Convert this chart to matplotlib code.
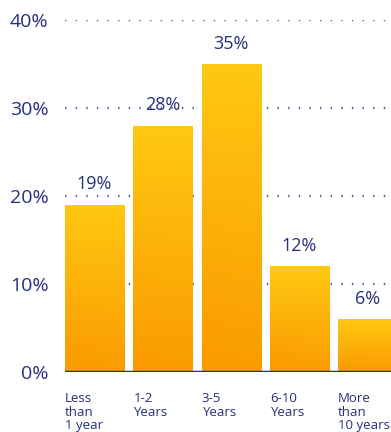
import matplotlib
matplotlib.use("Agg")
import matplotlib.pyplot as plt
import numpy as np
from matplotlib.colors import LinearSegmentedColormap

categories = ["Less\nthan\n1 year", "1-2\nYears", "3-5\nYears", "6-10\nYears", "More\nthan\n10 years"]
values = [19, 28, 35, 12, 6]
value_labels = ["19%", "28%", "35%", "12%", "6%"]
yticks = [0, 10, 20, 30, 40]
ytick_labels = ["0%", "10%", "20%", "30%", "40%"]

navy = "#26307a"
fontfam = ["Open Sans", "DejaVu Sans"]

W, H = 391, 432
fig = plt.figure(figsize=(W / 100, H / 100), dpi=100)
left, right, bottom, top = 65, 391, 372, 20
ax = fig.add_axes([left / W, 1 - bottom / H, (right - left) / W, (bottom - top) / H])

bw = 0.865
x = np.arange(len(values))

cmap = LinearSegmentedColormap.from_list("g", ["#fa9a00", "#ffc812"])
bars = ax.bar(x, values, width=bw, color="none", edgecolor="none", zorder=2)
grad = np.linspace(0, 1, 256).reshape(-1, 1)
grad = np.hstack([grad, grad * 0.97 + 0.03])
for b in bars:
    x0, y0 = b.get_x(), b.get_y()
    w, h = b.get_width(), b.get_height()
    im = ax.imshow(grad, cmap=cmap, aspect="auto", origin="lower",
                   extent=[x0, x0 + w, y0, y0 + h], zorder=2, interpolation="bilinear")
    im.set_clip_path(b)

ax.set_xlim(-bw / 2, 4.34)
ax.set_ylim(0, 40)

for yv in yticks[1:]:
    ax.axhline(yv, color="#5a5f9c", lw=1.7, ls=(0, (0.6, 3.9)), zorder=1)
ax.axhline(0, color=navy, lw=2.5, zorder=3)

for xi, v, lab in zip(x, values, value_labels):
    ax.text(xi, v + 1.3, lab, ha="center", va="bottom", fontsize=13,
            color=navy, family=fontfam)

for xi, c in zip(x, categories):
    ax.text(xi - bw / 2, -2.3, c, ha="left", va="top", fontsize=9.5,
            color=navy, family=fontfam, linespacing=1.03)

ax.set_yticks(yticks)
ax.set_yticklabels(ytick_labels, fontsize=14, color=navy, family=fontfam)
ax.tick_params(axis="y", length=0, pad=12)
ax.set_xticks([])
for s in ax.spines.values():
    s.set_visible(False)
ax.patch.set_alpha(0)

fig.savefig("out.png", dpi=100)
